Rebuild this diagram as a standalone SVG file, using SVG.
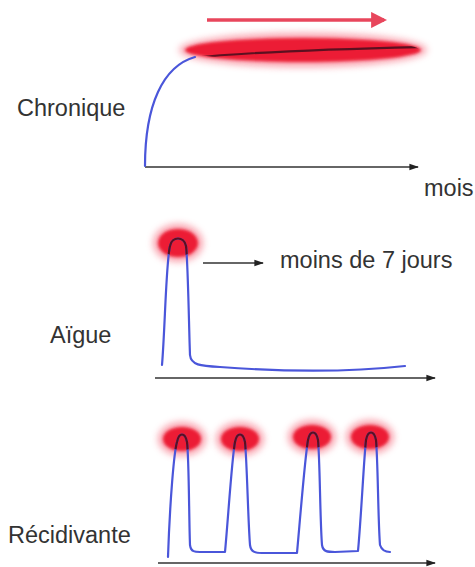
<svg xmlns="http://www.w3.org/2000/svg" width="475" height="567" viewBox="0 0 475 567">
  <defs>
    <style>
      .lbl { font-family: "Liberation Sans", Arial, sans-serif; font-size: 23.5px; fill: #333; }
      .curve { fill: none; stroke: #4a56da; stroke-width: 2.2; stroke-linejoin: round; stroke-linecap: round; }
      .hot { fill: none; stroke: #5c1020; stroke-width: 2.2; stroke-linejoin: round; stroke-linecap: round; }
      .halo { fill: #f5556a; opacity: 0.55; filter: url(#blurBig); }
      .glow { fill: #ec1f35; filter: url(#blur); }
      .axis { fill: none; stroke: #333; stroke-width: 1.6; }
      .redarrow { fill: none; stroke: #e8465c; stroke-width: 3.5; }
    </style>
    <filter id="blur" x="-50%" y="-80%" width="200%" height="260%">
      <feGaussianBlur stdDeviation="1.6"/>
    </filter>
    <filter id="blurBig" x="-50%" y="-80%" width="200%" height="260%">
      <feGaussianBlur stdDeviation="3.5"/>
    </filter>
    <marker id="ah" viewBox="0 0 10 10" refX="9" refY="5" markerWidth="6" markerHeight="6" markerUnits="strokeWidth" orient="auto">
      <path d="M0,1.5 L10,5 L0,8.5 Z" fill="#222"/>
    </marker>
    <marker id="ahred" viewBox="0 0 10 10" refX="8" refY="5" markerWidth="4.6" markerHeight="4.6" markerUnits="strokeWidth" orient="auto">
      <path d="M0,0 L10,5 L0,10 Z" fill="#e8465c"/>
    </marker>
    <clipPath id="clipC"><ellipse cx="303" cy="50" rx="116" ry="11"/></clipPath>
    <clipPath id="clipA"><ellipse cx="178" cy="243" rx="18" ry="13"/></clipPath>
    <clipPath id="clipR">
      <ellipse cx="182" cy="439" rx="17" ry="11"/>
      <ellipse cx="240" cy="439" rx="17" ry="11"/>
      <ellipse cx="312" cy="437" rx="17" ry="11"/>
      <ellipse cx="370" cy="437" rx="17" ry="11"/>
    </clipPath>
  </defs>
  <rect width="475" height="567" fill="#fff"/>

  <g id="connectors">
    <line class="axis" x1="145" y1="167" x2="418" y2="167" marker-end="url(#ah)"/>
    <line class="redarrow" x1="207" y1="20" x2="384" y2="20" marker-end="url(#ahred)"/>
    <line class="axis" x1="155" y1="378" x2="435" y2="378" marker-end="url(#ah)"/>
    <line class="axis" x1="203" y1="263" x2="263" y2="263" marker-end="url(#ah)"/>
    <line class="axis" x1="158" y1="563" x2="435" y2="563" marker-end="url(#ah)"/>
  </g>

  <g id="chronique">
    <ellipse class="halo" cx="303" cy="50" rx="124" ry="17"/>
    <ellipse class="glow" cx="303" cy="50" rx="118" ry="12"/>
    <path class="curve" d="M145,166 C145,105 163,66 195,57"/>
    <path class="hot" clip-path="url(#clipC)" d="M190,58 C250,52 330,49 421,47"/>
    <text class="lbl" x="17" y="116">Chronique</text>
    <text class="lbl" x="424" y="196">mois</text>
  </g>

  <g id="aigue">
    <ellipse class="halo" cx="178" cy="243" rx="25" ry="19"/>
    <ellipse class="glow" cx="178" cy="243" rx="20" ry="14"/>
    <path class="curve" d="M162,365 C165,330 166,262 170,246 C172,236 184,236 186,246 C188,262 189,330 190,355 C191,365 200,366 220,367 C300,373 360,371 405,366"/>
    <path class="hot" clip-path="url(#clipA)" d="M162,365 C165,330 166,262 170,246 C172,236 184,236 186,246 C188,262 189,330 190,355"/>
    <text class="lbl" x="50" y="343">Aïgue</text>
    <text class="lbl" x="280" y="268">moins de 7 jours</text>
  </g>

  <g id="recidivante">
    <ellipse class="halo" cx="182" cy="439" rx="24" ry="17"/>
    <ellipse class="halo" cx="240" cy="439" rx="24" ry="17"/>
    <ellipse class="halo" cx="312" cy="437" rx="24" ry="17"/>
    <ellipse class="halo" cx="370" cy="437" rx="24" ry="17"/>
    <ellipse class="glow" cx="182" cy="439" rx="19" ry="12"/>
    <ellipse class="glow" cx="240" cy="439" rx="19" ry="12"/>
    <ellipse class="glow" cx="312" cy="437" rx="19" ry="12"/>
    <ellipse class="glow" cx="370" cy="437" rx="19" ry="12"/>
    <path class="curve" d="M168,557 C170,500 174,452 177,442 C179,432 185,432 187,442 C189,457 189,520 190,545 C191,552 195,552 200,552 L225,552 C228,520 232,457 235,442 C237,432 243,432 245,442 C247,462 248,520 250,545 C251,552 255,553 262,553 L297,553 C300,520 305,457 308,440 C310,430 316,430 318,440 C320,462 320,520 322,545 C323,552 328,552 335,552 L358,551 C361,520 364,457 366,440 C368,430 374,430 376,440 C378,462 378,520 380,545 C382,551 386,552 390,552"/>
    <path class="hot" clip-path="url(#clipR)" d="M168,557 C170,500 174,452 177,442 C179,432 185,432 187,442 C189,457 189,520 190,545 C191,552 195,552 200,552 L225,552 C228,520 232,457 235,442 C237,432 243,432 245,442 C247,462 248,520 250,545 C251,552 255,553 262,553 L297,553 C300,520 305,457 308,440 C310,430 316,430 318,440 C320,462 320,520 322,545 C323,552 328,552 335,552 L358,551 C361,520 364,457 366,440 C368,430 374,430 376,440 C378,462 378,520 380,545 C382,551 386,552 390,552"/>
    <text class="lbl" x="8" y="543">Récidivante</text>
  </g>
</svg>
